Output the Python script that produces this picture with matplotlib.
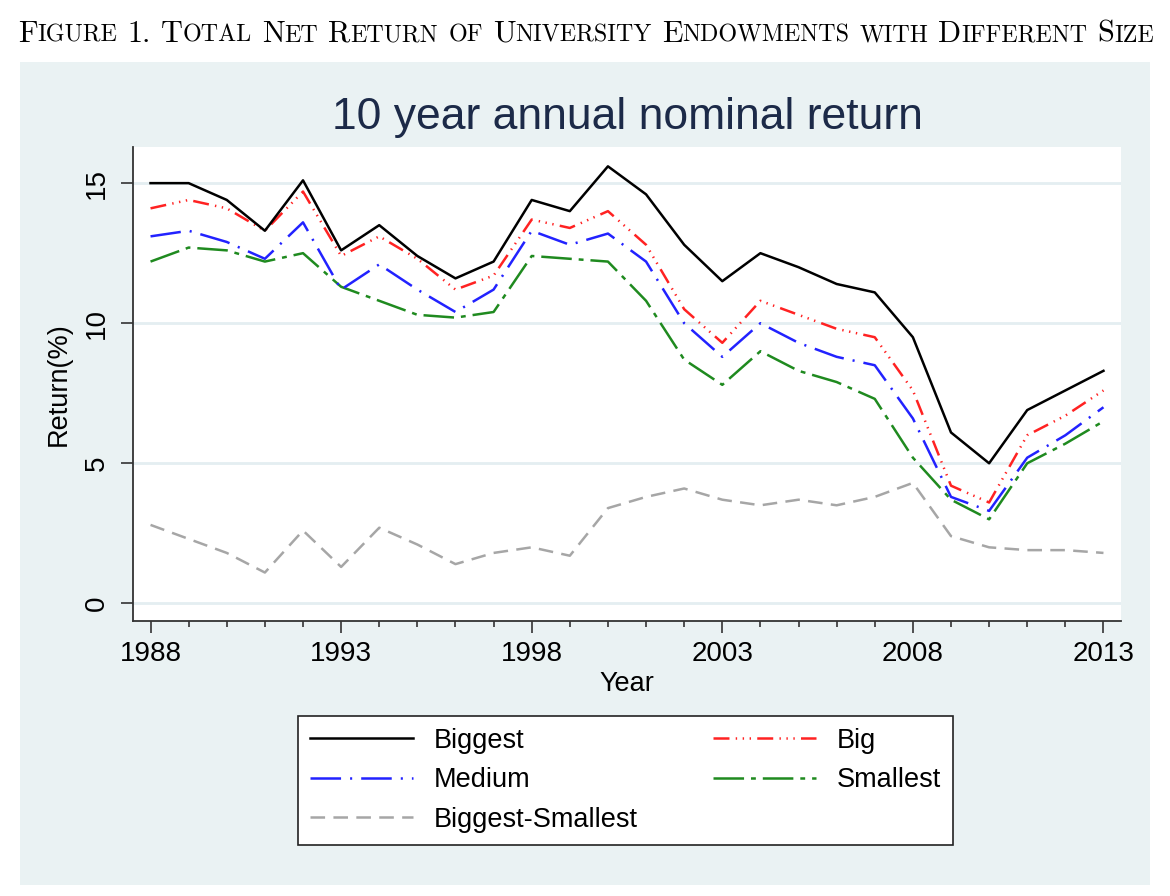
import matplotlib
matplotlib.use("Agg")
import matplotlib.pyplot as plt
from matplotlib.patches import Rectangle
from matplotlib.offsetbox import TextArea, HPacker, AnchoredOffsetbox

# data (10 year annual nominal return, %)
years = list(range(1988, 2014))
biggest = [15.0, 15.0, 14.4, 13.3, 15.1, 12.6, 13.5, 12.4, 11.6, 12.2, 14.4, 14.0, 15.6,
           14.6, 12.8, 11.5, 12.5, 12.0, 11.4, 11.1, 9.5, 6.1, 5.0, 6.9, 7.6, 8.3]
big = [14.1, 14.4, 14.1, 13.3, 14.7, 12.4, 13.1, 12.3, 11.2, 11.7, 13.7, 13.4, 14.0,
       12.8, 10.5, 9.3, 10.8, 10.3, 9.8, 9.5, 7.6, 4.2, 3.6, 6.0, 6.7, 7.6]
medium = [13.1, 13.3, 12.9, 12.3, 13.6, 11.2, 12.1, 11.2, 10.4, 11.2, 13.3, 12.8, 13.2,
          12.2, 10.0, 8.8, 10.0, 9.3, 8.8, 8.5, 6.6, 3.8, 3.3, 5.2, 6.0, 7.0]
smallest = [12.2, 12.7, 12.6, 12.2, 12.5, 11.3, 10.8, 10.3, 10.2, 10.4, 12.4, 12.3, 12.2,
            10.8, 8.7, 7.8, 9.0, 8.3, 7.9, 7.3, 5.2, 3.7, 3.0, 5.0, 5.7, 6.5]
diff = [2.8, 2.3, 1.8, 1.1, 2.6, 1.3, 2.7, 2.1, 1.4, 1.8, 2.0, 1.7, 3.4,
        3.8, 4.1, 3.7, 3.5, 3.7, 3.5, 3.8, 4.3, 2.4, 2.0, 1.9, 1.9, 1.8]

caption = "Figure 1. Total Net Return of University Endowments with Different Size"
title = "10 year annual nominal return"
yticks = [0, 5, 10, 15]
xticks = [1988, 1993, 1998, 2003, 2008, 2013]

W, H = 1170, 896
plt.rcParams['font.family'] = ['Liberation Sans', 'DejaVu Sans']
plt.rcParams['lines.scale_dashes'] = False

fig = plt.figure(figsize=(W / 100, H / 100), dpi=100, facecolor='white')

# light stata-like panel behind the graph
fig.add_artist(Rectangle((20 / W, 1 - 885 / H), 1130 / W, (885 - 62) / H,
                         transform=fig.transFigure, facecolor='#EAF2F3',
                         edgecolor='none', zorder=0))

# caption in (fake) small caps
big_sz, small_sz = 21.8, 17.3
words = []
for word in caption.split(' '):
    runs = []
    for ch in word:
        is_big = not ch.islower()
        if runs and runs[-1][1] == is_big:
            runs[-1][0] += ch.upper()
        else:
            runs.append([ch.upper(), is_big])
    boxes = [TextArea(s, textprops=dict(family='cmr10', size=big_sz if b else small_sz,
                                        color='black')) for s, b in runs]
    words.append(HPacker(children=boxes, align='baseline', pad=0, sep=0))
cap = HPacker(children=words, align='baseline', pad=0, sep=7.2)
fig.add_artist(AnchoredOffsetbox(loc='center', child=cap, frameon=False, pad=0, borderpad=0,
                                 bbox_to_anchor=(586 / W, 1 - 34 / H),
                                 bbox_transform=fig.transFigure))

ax = fig.add_axes([133 / W, 1 - 621 / H, (1121 - 133) / W, (621 - 147) / H])
ax.set_facecolor('white')
ax.set_zorder(1)

lw = 1.8
ax.plot(years, diff, color='#A6A6A6', lw=lw, dashes=(10.5, 6), label='Biggest-Smallest')
ax.plot(years, smallest, color='#1F8A1F', lw=lw, dashes=(22, 5, 3.5, 5), label='Smallest')
ax.plot(years, medium, color='#2222FF', lw=lw, dashes=(22, 6.5, 1.5, 6.5), label='Medium')
ax.plot(years, big, color='#FF2222', lw=lw, dashes=(11.5, 4.5, 1, 4, 1, 4, 1, 4.5), label='Big')
ax.plot(years, biggest, color='black', lw=lw, label='Biggest')

ax.set_xlim(1987.54, 2013.46)
ax.set_ylim(-0.63, 16.29)
ax.set_yticks(yticks)
ax.set_xticks(xticks)
ax.set_xticks(years, minor=True)
ax.grid(axis='y', color='#E4EEF1', lw=2)
ax.set_axisbelow(True)

for s in ['top', 'right']:
    ax.spines[s].set_visible(False)
for s in ['left', 'bottom']:
    ax.spines[s].set_color('#333333')
    ax.spines[s].set_linewidth(1.3)

ax.tick_params(axis='both', which='major', length=8.5, width=1.2, color='#333333',
               labelsize=20, pad=6)
ax.tick_params(axis='x', which='minor', length=4.5, width=1.2, color='#333333')
ax.tick_params(axis='y', labelrotation=90, pad=8)
for lab in ax.get_yticklabels():
    lab.set_va('center')

ax.set_xlabel('Year', fontsize=19.5, labelpad=3)
ax.set_ylabel('Return(%)', fontsize=19.5, labelpad=9)

fig.text(627 / W, 1 - 118 / H, title, ha='center', va='center', fontsize=32,
         color='#1C2A48')

handles, labels = ax.get_legend_handles_labels()
hmap = dict(zip(labels, handles))
# ncol=2 fills column-wise, so reorder to get row-wise layout
col1 = ['Biggest', 'Medium', 'Biggest-Smallest']
col2 = ['Big', 'Smallest']
leg = fig.legend([hmap[k] for k in col1 + col2], col1 + col2, ncol=2,
                 loc='lower left', bbox_to_anchor=(298 / W, 1 - 845 / H, 655 / W, 133 / H),
                 mode='expand', fontsize=19.5, frameon=True, fancybox=False,
                 edgecolor='#222222', facecolor='white', framealpha=1,
                 handlelength=3.8, handletextpad=0.75, labelspacing=0.5,
                 borderaxespad=0, borderpad=0.45, columnspacing=1.0)
leg.get_frame().set_linewidth(1.2)

fig.savefig('out.png', dpi=100, facecolor='white')
